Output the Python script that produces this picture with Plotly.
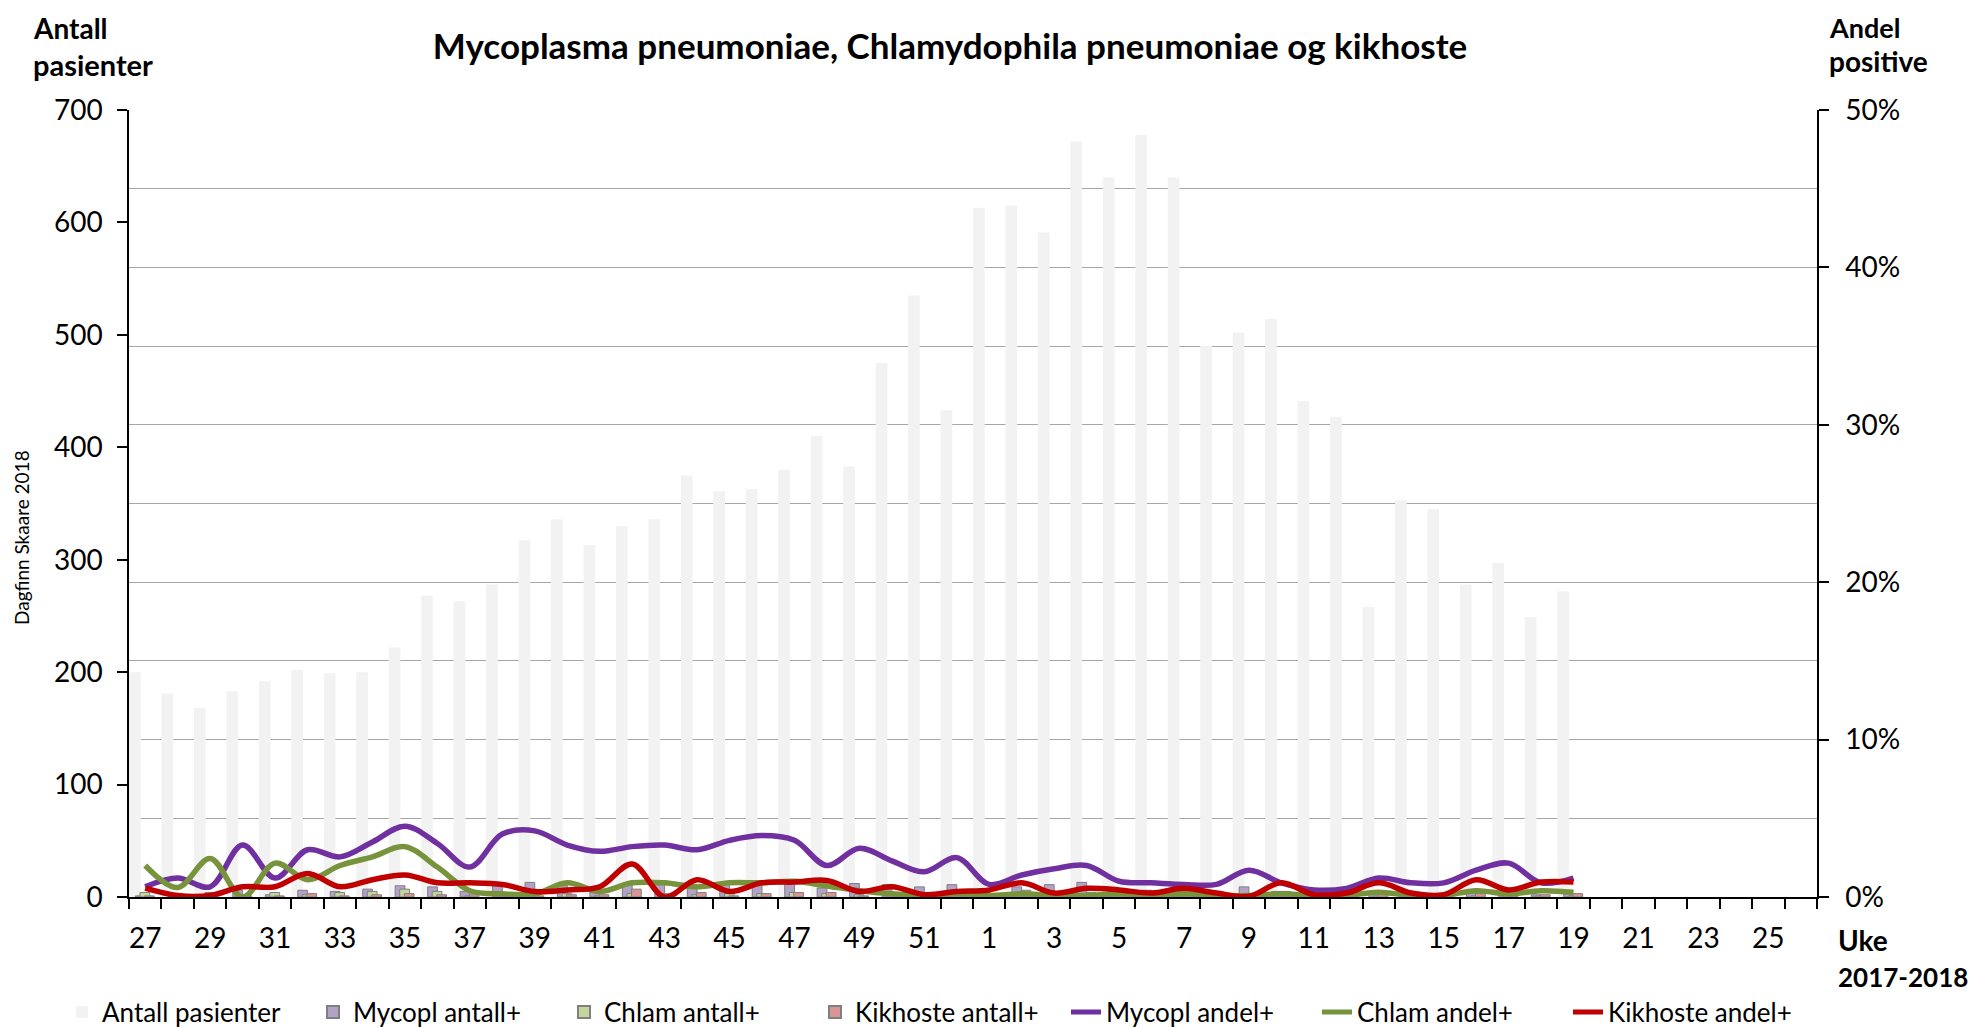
import plotly.graph_objects as go

# ---- data ----
weeks = [str(w) for w in range(27, 53)] + [str(w) for w in range(1, 27)]

antall_pasienter = [200, 181, 168, 183, 192, 202, 199, 200, 222, 268, 263, 278, 317, 336,
                    313, 330, 336, 375, 361, 363, 380, 410, 383, 475, 535, 433,
                    613, 615, 591, 672, 640, 678, 640, 490, 502, 514, 441, 427, 258, 353,
                    345, 278, 297, 249, 272]

mycopl_antall = [1, 2, 1, 6, 2, 6, 5, 7, 10, 9, 5, 11, 13, 11, 9, 11, 11, 11, 13, 14, 14, 8,
                 12, 11, 9, 11, 5, 9, 11, 13, 6, 6, 5, 4, 9, 5, 2, 2, 3, 3, 3, 5, 6, 2, 3]
chlam_antall = [4, 1, 4, 0, 4, 2, 4, 5, 7, 5, 1, 1, 1, 3, 1, 3, 3, 2, 3, 3, 4, 3, 2, 1, 1, 1,
                1, 1, 1, 1, 1, 1, 1, 1, 1, 1, 0, 0, 1, 0, 0, 1, 1, 1, 1]
kikhoste_antall = [1, 0, 0, 1, 1, 3, 1, 2, 3, 2, 2, 2, 1, 2, 2, 7, 0, 4, 1, 3, 4, 4, 1, 3, 1, 2,
                   3, 6, 1, 4, 3, 2, 4, 1, 0, 5, 1, 1, 2, 1, 1, 3, 1, 2, 3]

# andel positive, in percent
mycopl_andel = [0.65, 1.2, 0.65, 3.3, 1.2, 3.0, 2.55, 3.5, 4.5, 3.4, 1.9, 4.0, 4.2, 3.3,
                2.9, 3.2, 3.3, 3.0, 3.6, 3.9, 3.6, 2.0, 3.1, 2.3, 1.6, 2.5,
                0.8, 1.4, 1.8, 2.0, 1.0, 0.9, 0.8, 0.8, 1.7, 0.9, 0.45, 0.55, 1.2, 0.9,
                0.9, 1.7, 2.15, 0.9, 1.2]
chlam_andel = [2.0, 0.6, 2.45, 0.0, 2.15, 1.1, 2.0, 2.55, 3.2, 1.9, 0.4, 0.2, 0.2, 0.9,
               0.35, 0.9, 0.9, 0.65, 0.9, 0.9, 1.0, 0.7, 0.4, 0.2, 0.1, 0.2,
               0.1, 0.2, 0.1, 0.1, 0.2, 0.1, 0.2, 0.1, 0.1, 0.2, 0.1, 0.1, 0.3, 0.1,
               0.1, 0.4, 0.2, 0.4, 0.3]
kikhoste_andel = [0.57, 0.1, 0.1, 0.65, 0.65, 1.5, 0.65, 1.1, 1.4, 0.9, 0.9, 0.8, 0.35, 0.45,
                  0.65, 2.1, 0.0, 1.1, 0.35, 0.9, 0.95, 1.05, 0.35, 0.65, 0.15, 0.35,
                  0.45, 0.9, 0.25, 0.55, 0.45, 0.25, 0.55, 0.25, 0.05, 0.9, 0.15, 0.25, 0.9, 0.25,
                  0.15, 1.1, 0.45, 0.95, 0.95]

tick_labels = [w if i % 2 == 0 else "" for i, w in enumerate(weeks)]


def pad(vals):
    return list(vals) + [None] * (len(weeks) - len(vals))


FONT = "Lato"
OFF = 8                      # page body margin offset
W, H = 1977 - OFF, 1027 - OFF
L, R, T, B = 129, 1817, 110, 897   # plot area in screen pixels


def xp(px):
    return (px - L) / (R - L)


def yp(py):
    return (B - py) / (B - T)


fig = go.Figure()

fig.add_trace(go.Bar(x=weeks, y=pad(antall_pasienter), name="Antall pasienter",
                     marker=dict(color="#F2F2F2", line=dict(width=0)),
                     offset=-0.5, width=0.36, yaxis="y"))
bar_specs = [
    ("Mycopl antall+", mycopl_antall, "#B3A2C7", -0.30),
    ("Chlam antall+", chlam_antall, "#C3D69B", -0.16),
    ("Kikhoste antall+", kikhoste_antall, "#D99694", -0.02),
]
for name, vals, col, off in bar_specs:
    fig.add_trace(go.Bar(x=weeks, y=pad(vals), name=name,
                         marker=dict(color=col, line=dict(color="#7F7F7F", width=1)),
                         offset=off, width=0.3, yaxis="y"))

line_specs = [
    ("Mycopl andel+", mycopl_andel, "#7030A0"),
    ("Chlam andel+", chlam_andel, "#77933C"),
    ("Kikhoste andel+", kikhoste_andel, "#C00000"),
]
for name, vals, col in line_specs:
    fig.add_trace(go.Scatter(x=weeks, y=pad(vals), name=name, mode="lines",
                             line=dict(color=col, width=5.5, shape="spline", smoothing=1.0),
                             yaxis="y2", connectgaps=False))

fig.update_layout(
    width=W, height=H,
    margin=dict(l=L - OFF, r=W - (R - OFF), t=T - OFF, b=H - (B - OFF), autoexpand=False),
    paper_bgcolor="white", plot_bgcolor="white",
    font=dict(family=FONT, size=28, color="#000000"),
    barmode="overlay",
    showlegend=True,
    legend=dict(orientation="h", x=xp(62), y=yp(1012), xanchor="left", yanchor="middle",
                font=dict(size=26, family=FONT), entrywidth=206, entrywidthmode="pixels",
                traceorder="normal", itemsizing="constant"),
    title=dict(text="<b>Mycoplasma pneumoniae, Chlamydophila pneumoniae og kikhoste</b>",
               x=(950 - OFF) / W, xref="container", xanchor="center",
               y=1 - (47 - OFF) / H, yref="container", yanchor="middle",
               font=dict(size=35, family=FONT)),
    xaxis=dict(type="category", categoryorder="array", categoryarray=weeks,
               range=[-0.5, len(weeks) - 0.5],
               tickmode="array", tickvals=weeks, ticktext=tick_labels,
               tickson="boundaries", ticks="outside", ticklen=10, tickwidth=1.5,
               tickcolor="black", showline=True, linecolor="black", linewidth=1.5,
               showgrid=False, zeroline=False, tickangle=0, ticklabelstandoff=16,
               tickfont=dict(size=28, family=FONT)),
    yaxis=dict(range=[0, 700], dtick=100, ticks="outside", ticklen=10, tickwidth=1.5,
               tickcolor="black", showline=True, linecolor="black", linewidth=1.5,
               showgrid=False, zeroline=False, ticklabelstandoff=9,
               tickfont=dict(size=28, family=FONT)),
    yaxis2=dict(range=[0, 50], dtick=10, ticksuffix="%", overlaying="y", side="right",
                ticks="outside", ticklen=10, tickwidth=1.5, tickcolor="black",
                showline=True, linecolor="black", linewidth=1.5,
                showgrid=True, gridcolor="#A6A6A6", gridwidth=1.3, zeroline=False,
                minor=dict(dtick=5, showgrid=True, gridcolor="#A6A6A6", gridwidth=1.3),
                ticklabelstandoff=11, tickfont=dict(size=28, family=FONT)),
)

annots = [
    dict(text="<b>Antall</b>", x=xp(31), y=yp(28), size=28),
    dict(text="<b>pasienter</b>", x=xp(31), y=yp(64), size=29),
    dict(text="<b>Andel</b>", x=xp(1827), y=yp(28), size=27),
    dict(text="<b>positive</b>", x=xp(1827), y=yp(61), size=28),
    dict(text="<b>Uke</b>", x=xp(1836), y=yp(940), size=28),
    dict(text="<b>2017-2018</b>", x=xp(1836), y=yp(977), size=26),
]
for a in annots:
    fig.add_annotation(text=a["text"], x=a["x"], y=a["y"], xref="paper", yref="paper",
                       xanchor="left", yanchor="middle", showarrow=False,
                       font=dict(size=a["size"], family=FONT, color="black"), align="left")
fig.add_annotation(text="Dagfinn Skaare 2018", x=xp(21), y=yp(538), xref="paper", yref="paper",
                   textangle=-90, showarrow=False, xanchor="center", yanchor="middle",
                   font=dict(size=19, family=FONT, color="black"))

fig.write_html("out.html")
